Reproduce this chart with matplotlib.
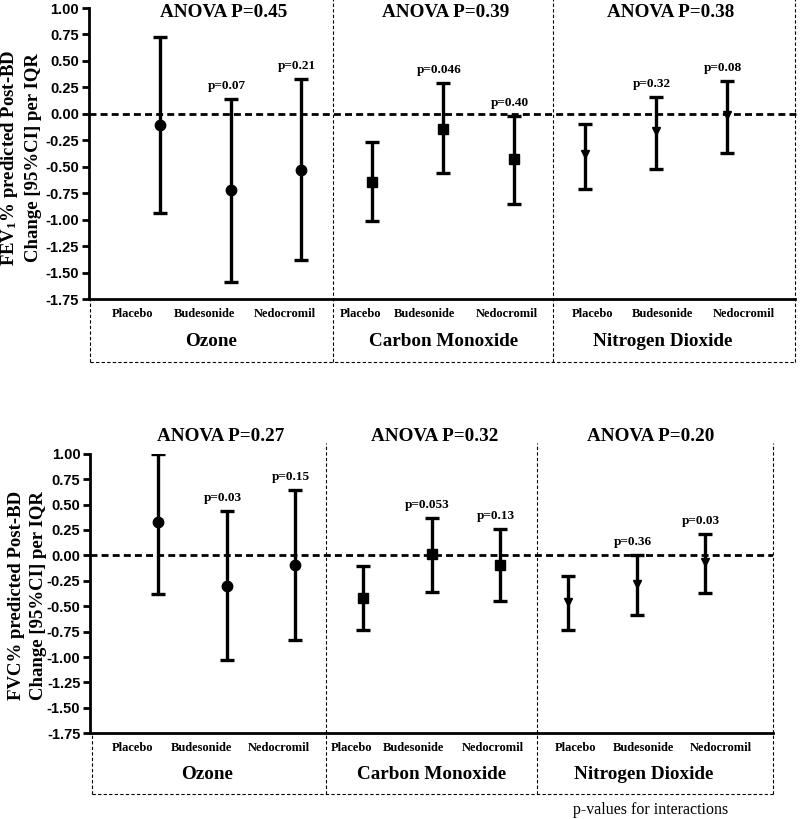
import matplotlib
matplotlib.use("Agg")
import matplotlib.pyplot as plt
import numpy as np

# ---------------- data ----------------
groups = ["Ozone", "Carbon Monoxide", "Nitrogen Dioxide"]
treatments = ["Placebo", "Budesonide", "Nedocromil"]
anova_fev = ["0.45", "0.39", "0.38"]
anova_fvc = ["0.27", "0.32", "0.20"]

fev_est = [-0.11, -0.72, -0.53, -0.645, -0.14, -0.43, -0.38, -0.165, -0.01]
fev_lo = [-0.94, -1.59, -1.38, -1.01, -0.56, -0.85, -0.71, -0.52, -0.37]
fev_hi = [0.73, 0.14, 0.33, -0.27, 0.29, -0.02, -0.10, 0.16, 0.31]
fev_p = [None, "0.07", "0.21", None, "0.046", "0.40", None, "0.32", "0.08"]

fvc_est = [0.33, -0.30, -0.09, -0.42, 0.01, -0.09, -0.46, -0.285, -0.06]
fvc_lo = [-0.38, -1.03, -0.83, -0.73, -0.36, -0.45, -0.73, -0.59, -0.37]
fvc_hi = [1.00, 0.435, 0.64, -0.10, 0.37, 0.26, -0.20, 0.00, 0.21]
fvc_p = [None, "0.03", "0.15", None, "0.053", "0.13", None, "0.36", "0.03"]

yticks = [1.00, 0.75, 0.50, 0.25, 0.00, -0.25, -0.50, -0.75, -1.00, -1.25, -1.50, -1.75]

# ---------------- style ----------------
plt.rcParams['mathtext.fontset'] = 'custom'
plt.rcParams['mathtext.rm'] = 'Liberation Serif:bold'
plt.rcParams['mathtext.it'] = 'Liberation Serif:bold'
plt.rcParams['mathtext.bf'] = 'Liberation Serif:bold'
SERIF = 'Liberation Serif'
SANS = 'Liberation Sans'

markers = ['o', 's', 'v']
msizes = [7.5, 6.5, 5.5]
label_x = [0.62, 1.63, 2.76, 3.83, 4.73, 5.90, 7.11, 8.10, 9.24]
group_x = [1.72, 5.0, 8.1]
title_x = [1.91, 5.04, 8.21]
seps = [3.45, 6.55]

fig = plt.figure(figsize=(8.0, 8.19), dpi=100)
ax1 = fig.add_axes([0.111, 0.6349, 0.886, 0.3553])
ax2 = fig.add_axes([0.1125, 0.1046, 0.854, 0.3414])


def draw(ax, est, lo, hi, pv, anova, title_y, sep_top, right_x, left_x, xmax):
    x = np.arange(1, 10)
    est = np.array(est); lo = np.array(lo); hi = np.array(hi)
    for g in range(3):
        idx = slice(3 * g, 3 * g + 3)
        ax.errorbar(x[idx], est[idx], yerr=[est[idx] - lo[idx], hi[idx] - est[idx]],
                    fmt=markers[g], ms=msizes[g], color='black', ecolor='black',
                    elinewidth=2.4, capsize=5, capthick=2.4, zorder=3)
    ax.axhline(0, color='black', lw=2.0, ls=(0, (2.5, 1.5)), zorder=2)
    ax.set_xlim(0, xmax)
    ax.set_ylim(-1.75, 1.0)
    ax.set_yticks(yticks)
    ax.set_yticklabels([f"{v:.2f}" for v in yticks], fontfamily=SANS,
                       fontweight='bold', fontsize=10.5)
    ax.set_xticks([])
    for s in ['top', 'right']:
        ax.spines[s].set_visible(False)
    ax.spines['left'].set_linewidth(2.0)
    ax.spines['bottom'].set_linewidth(2.0)
    ax.spines['bottom'].set_bounds(0, right_x)
    ax.tick_params(axis='y', width=2.0, length=5, pad=2)

    # p-values
    for i in range(9):
        if pv[i] is not None:
            ax.annotate(f"p={pv[i]}", (x[i], hi[i]), xytext=(-3, 9.5),
                        textcoords='offset points', ha='center', va='center',
                        fontfamily=SERIF, fontweight='bold', fontsize=9.5)
    # titles
    for g in range(3):
        ax.text(title_x[g], title_y, f"ANOVA P={anova[g]}",
                transform=ax.get_xaxis_transform(), ha='center', va='center',
                fontfamily=SERIF, fontweight='bold', fontsize=13.8)
    # category labels
    for i in range(9):
        ax.text(label_x[i], -0.052, treatments[i % 3],
                transform=ax.get_xaxis_transform(), ha='center', va='center',
                fontfamily=SERIF, fontweight='bold', fontsize=9.0)
    for g in range(3):
        ax.text(group_x[g], -0.147, groups[g],
                transform=ax.get_xaxis_transform(), ha='center', va='center',
                fontfamily=SERIF, fontweight='bold', fontsize=13.8)
    # dashed box & separators
    tr = ax.get_xaxis_transform()
    kw = dict(color='black', lw=0.8, ls=(0, (3, 2)), transform=tr, clip_on=False)
    box_bottom = -0.217
    ax.plot([left_x, right_x], [box_bottom, box_bottom], **kw)
    ax.plot([left_x, left_x], [box_bottom, 0], **kw)
    for s in seps:
        ax.plot([s, s], [box_bottom, sep_top], **kw)
    ax.plot([right_x, right_x], [box_bottom, sep_top], **kw)


draw(ax1, fev_est, fev_lo, fev_hi, fev_p, anova_fev, 0.983, 1.03, 9.97, 0.01, 10.0)
draw(ax2, fvc_est, fvc_lo, fvc_hi, fvc_p, anova_fvc, 1.06, 1.038, 9.99, 0.03, 10.0)

fig.text(0.026, 0.808, "FEV$_1$% predicted Post-BD\nChange [95%CI] per IQR",
         rotation=90, ha='center', va='center', fontfamily=SERIF,
         fontweight='bold', fontsize=13.5, linespacing=1.4)
fig.text(0.034, 0.273, "FVC% predicted Post-BD\nChange [95%CI] per IQR",
         rotation=90, ha='center', va='center', fontfamily=SERIF,
         fontweight='bold', fontsize=13.5, linespacing=1.4)
fig.text(651 / 800, 1 - 810 / 819, "p-values for interactions", ha='center',
         va='center', fontfamily=SERIF, fontsize=11.5)

fig.savefig("out.png", dpi=100)
